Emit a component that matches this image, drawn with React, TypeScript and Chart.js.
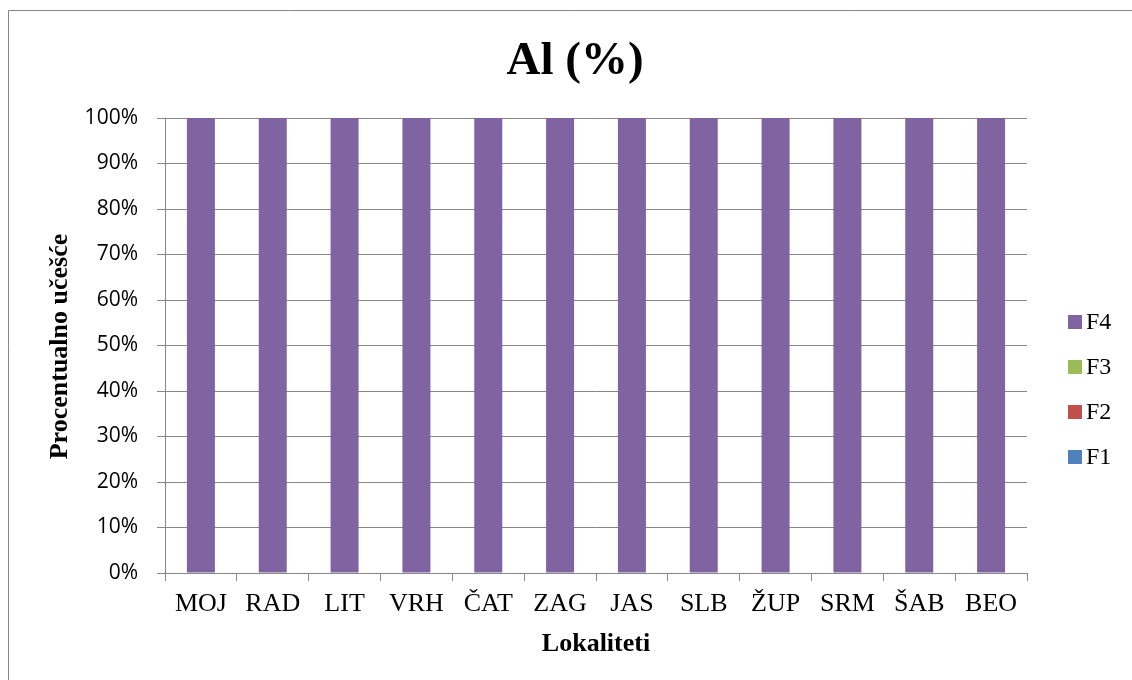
import React, { useEffect, useRef } from "react";
import { Chart, registerables } from "chart.js";

Chart.register(...registerables);

const categories = ["MOJ", "RAD", "LIT", "VRH", "ČAT", "ZAG", "JAS", "SLB", "ŽUP", "SRM", "ŠAB", "BEO"];
const seriesNames = ["F1", "F2", "F3", "F4"];
const seriesColors = ["#4F81BD", "#C0504D", "#9BBB59", "#8064A2"];
const f1Values = [0, 0, 0, 0, 0, 0, 0, 0, 0, 0, 0, 0];
const f2Values = [0, 0, 0, 0, 0, 0, 0, 0, 0, 0, 0, 0];
const f3Values = [0, 0, 0, 0, 0, 0, 0, 0, 0, 0, 0, 0];
const f4Values = [100, 100, 100, 100, 100, 100, 100, 100, 100, 100, 100, 100];
const chartTitle = "Al (%)";
const xTitle = "Lokaliteti";
const yTitle = "Procentualno učešće";

const W = 1132;
const H = 680;
const GRID = "#868686";
const SERIF = "'Liberation Serif', 'Times New Roman', serif";

const decorPlugin = {
  id: "decor",
  beforeDraw(chart: any) {
    const ctx = chart.ctx;
    ctx.save();
    ctx.fillStyle = "#fff";
    ctx.fillRect(0, 0, W, H);
    ctx.strokeStyle = GRID;
    ctx.lineWidth = 1;
    ctx.beginPath();
    ctx.moveTo(8.5, H + 5);
    ctx.lineTo(8.5, 10.5);
    ctx.lineTo(W + 5, 10.5);
    ctx.stroke();
    ctx.restore();
  },
  afterDraw(chart: any) {
    const ctx = chart.ctx;
    const area = chart.chartArea;
    ctx.save();
    ctx.fillStyle = "#000";
    ctx.textBaseline = "alphabetic";
    ctx.textAlign = "center";
    ctx.font = `bold 47px ${SERIF}`;
    ctx.fillText(chartTitle, 575, 74);
    ctx.font = `bold 26px ${SERIF}`;
    ctx.fillText(xTitle, (area.left + area.right) / 2, 651);
    ctx.save();
    ctx.translate(67, (area.top + area.bottom) / 2 + 1);
    ctx.rotate(-Math.PI / 2);
    ctx.fillText(yTitle, 0, 0);
    ctx.restore();
    // legend (reversed order)
    ctx.textAlign = "left";
    ctx.font = `24px ${SERIF}`;
    const order = [3, 2, 1, 0];
    order.forEach((idx, i) => {
      const baseY = 329 + i * 45;
      ctx.fillStyle = seriesColors[idx];
      ctx.fillRect(1068, baseY - 14, 14, 14);
      ctx.fillStyle = "#000";
      ctx.fillText(seriesNames[idx], 1086, baseY);
    });
    ctx.restore();
  },
};

export default function App() {
  const ref = useRef<HTMLCanvasElement | null>(null);
  useEffect(() => {
    if (!ref.current) return;
    const values = [f1Values, f2Values, f3Values, f4Values];
    const chart = new Chart(ref.current, {
      type: "bar",
      data: {
        labels: categories,
        datasets: seriesNames.map((name, i) => ({
          label: name,
          data: values[i],
          backgroundColor: seriesColors[i],
          borderWidth: 0,
          categoryPercentage: 1,
          barPercentage: 0.39,
        })),
      },
      options: {
        responsive: false,
        animation: false,
        layout: { padding: { left: 0, top: 118, right: 105, bottom: 0 } },
        plugins: {
          legend: { display: false },
          title: { display: false },
          tooltip: { enabled: false },
        },
        scales: {
          x: {
            stacked: true,
            offset: true,
            afterFit: (s: any) => {
              s.height = H - 573;
            },
            grid: {
              offset: true,
              drawOnChartArea: false,
              drawTicks: true,
              tickLength: 8,
              color: GRID,
              lineWidth: 1,
            },
            border: { display: true, color: GRID, width: 1 },
            ticks: {
              color: "#000",
              padding: 8,
              font: { family: SERIF, size: 26 },
              maxRotation: 0,
              autoSkip: false,
            },
          },
          y: {
            stacked: true,
            min: 0,
            max: 100,
            afterFit: (s: any) => {
              s.width = 165;
            },
            grid: {
              drawOnChartArea: true,
              drawTicks: true,
              tickLength: 8,
              color: GRID,
              lineWidth: 1,
            },
            border: { display: true, color: GRID, width: 1 },
            ticks: {
              stepSize: 10,
              color: "#000",
              padding: 19,
              font: { family: "'Open Sans', sans-serif", size: 21 },
              callback: (v: any) => `${v}%`,
            },
          },
        },
      },
      plugins: [decorPlugin],
    });
    return () => chart.destroy();
  }, []);
  return (
    <div style={{ position: "fixed", left: 0, top: 0, width: W, height: H, overflow: "hidden", background: "#fff" }}>
      <canvas ref={ref} width={W} height={H} style={{ width: W, height: H, display: "block" }} />
    </div>
  );
}
